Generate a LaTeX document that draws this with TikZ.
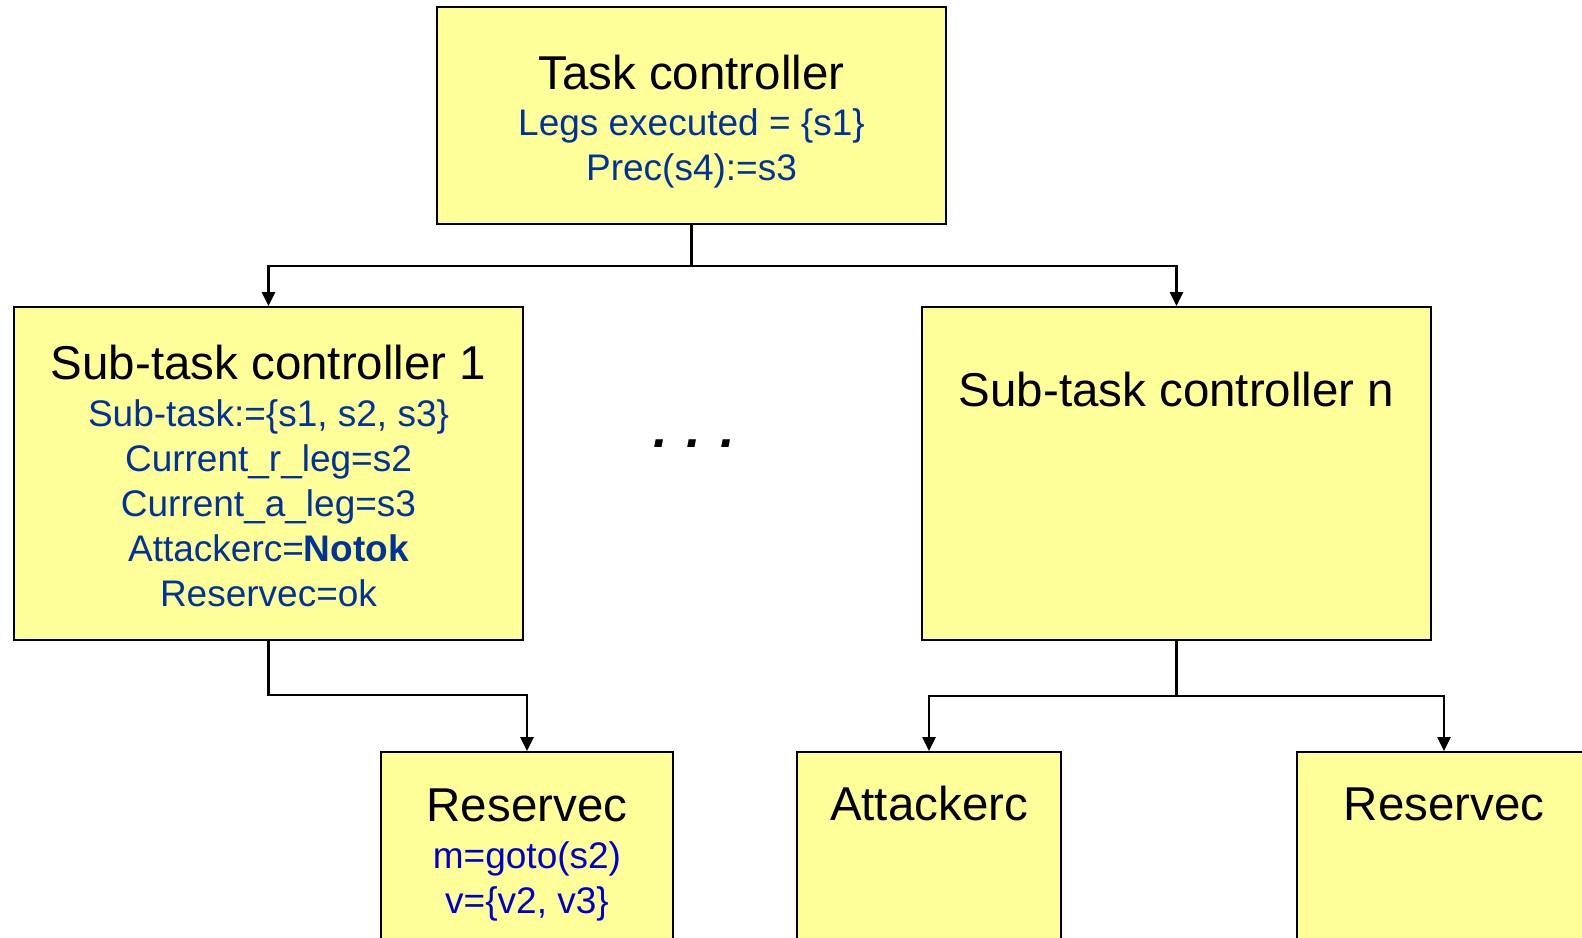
\documentclass[tikz,border=0pt]{standalone}
\usepackage{fontspec}
\setmainfont{Liberation Sans}
\usetikzlibrary{arrows.meta, positioning}
\definecolor{boxyellow}{RGB}{255,255,153}
\definecolor{statenavy}{RGB}{0,51,153}
\definecolor{msgblue}{RGB}{0,0,204}

\begin{document}
\begin{tikzpicture}[x=1pt, y=-1pt,
  ctrl/.style={draw, line width=1.8pt, fill=boxyellow, inner sep=0pt},
  title/.style={font=\fontsize{47.5}{52}\selectfont, anchor=base},
  info/.style={font=\fontsize{37}{44}\selectfont, text=statenavy, anchor=base},
  link/.style={line width=2.3pt},
  arr/.style={link, -{Triangle[length=14pt, width=13pt]}}]
  \clip (0,0) rectangle (1582,937);
  \fill[white] (0,0) rectangle (1582,937);

  % boxes
  \node[ctrl, minimum width=509pt, minimum height=217pt] (task) at (691.5,115.5) {};
  \node[ctrl, minimum width=509pt, minimum height=333pt] (sub1) at (268.5,473.5) {};
  \node[ctrl, minimum width=509pt, minimum height=333pt] (subn) at (1176.5,473.5) {};
  \node[ctrl, minimum width=292pt, minimum height=260pt] (resl) at (527,882) {};
  \node[ctrl, minimum width=264pt, minimum height=260pt] (att) at (929,882) {};
  \node[ctrl, minimum width=294pt, minimum height=260pt] (resr) at (1444,882) {};

  % texts
  \node[title] (task-t) at (691.5,89) {Task controller};
  \foreach \txt [count=\i] in {{Legs executed = \{s1\}}, {Prec(s4):=s3}}
    \node[info] (task-\i) at (691.5, {135+45*(\i-1)}) {\txt};

  \node[title] (sub1-t) at (268.5,379) {Sub-task controller 1};
  \foreach \txt [count=\i] in {{Sub-task:=\{s1, s2, s3\}}, {Current\_r\_leg=s2},
      {Current\_a\_leg=s3}, {Attackerc=\textbf{Notok}}, {Reservec=ok}}
    \node[info] (sub1-\i) at (268.5, {426+45*(\i-1)}) {\txt};

  \node[title] (subn-t) at (1176.5,406) {Sub-task controller n};

  \node[title] (resl-t) at (527,821) {Reservec};
  \foreach \txt [count=\i] in {{m=goto(s2)}, {v=\{v2, v3\}}}
    \node[info, text=msgblue] (resl-\i) at (527, {868+45*(\i-1)}) {\txt};

  \node[title] (att-t) at (929,820) {Attackerc};
  \node[title] (resr-t) at (1444,820) {Reservec};

  \node[font=\fontsize{52}{60}\selectfont\bfseries\itshape, anchor=base] (dots) at (694,447) {. . .};

  % links
  \coordinate (j1) at (691.5,266);
  \coordinate (j2) at (268.5,695);
  \coordinate (j3) at (1176.5,696);
  \draw[link] (task.south) -- (j1);
  \draw[arr] (j1) -| (sub1.north);
  \draw[arr] (j1) -| (subn.north);
  \draw[arr] (sub1.south) -- (j2) -| (resl.north);
  \draw[link] (subn.south) -- (j3);
  \draw[arr] (j3) -| (att.north);
  \draw[arr] (j3) -| (resr.north);
\end{tikzpicture}
\end{document}
